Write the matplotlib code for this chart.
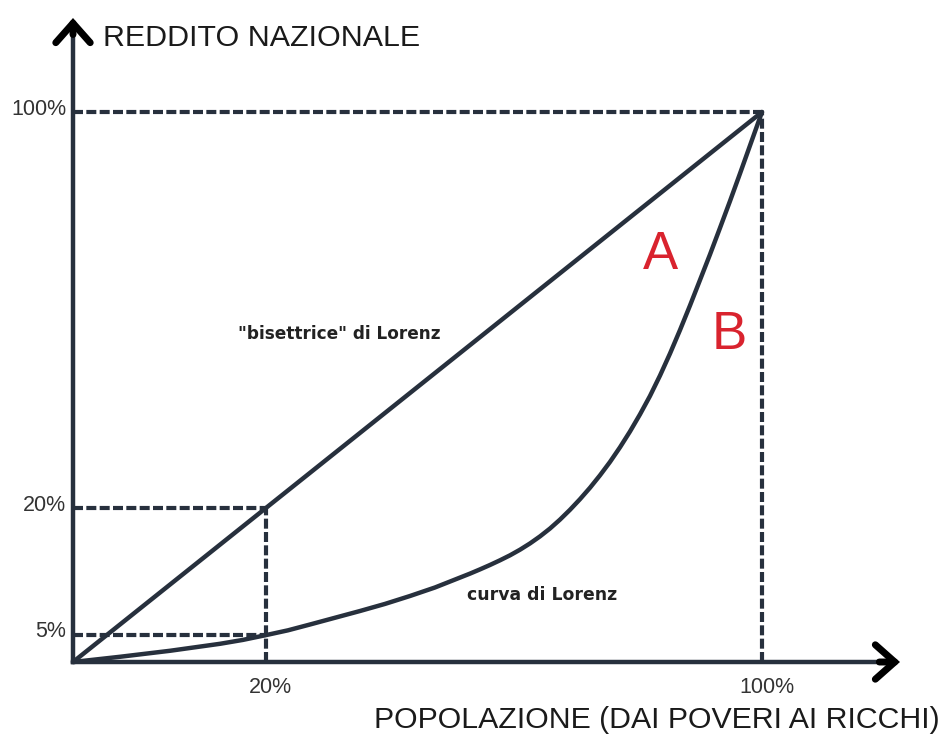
import numpy as np
import matplotlib.pyplot as plt

plt.rcParams['font.family'] = ['Liberation Sans', 'DejaVu Sans']

# --- data (schematic units: 0..100 along each axis, as drawn) ---
lorenz_x = [0, 6.82, 14.08, 21.34, 24.67, 28.01, 31.20, 34.40, 41.65, 45.28, 48.91,
            52.54, 56.17, 57.62, 59.07, 60.52, 61.97, 63.43, 64.88, 66.33, 67.78,
            69.23, 70.68, 72.13, 73.58, 75.04, 76.49, 77.94, 79.39, 80.84, 82.29,
            83.74, 85.20, 86.65, 88.10, 89.55, 91.00, 92.45, 93.90, 95.36, 96.81,
            98.26, 100]
lorenz_y = [0, 0.95, 2.04, 3.31, 4.02, 4.89, 5.76, 6.82, 9.27, 10.56, 12.00,
            13.55, 15.35, 16.07, 16.84, 17.64, 18.49, 19.40, 20.42, 21.56, 22.84,
            24.27, 25.89, 27.67, 29.60, 31.69, 33.95, 36.38, 39.04, 41.91, 45.02,
            48.36, 52.09, 56.09, 60.36, 64.82, 69.45, 74.09, 78.91, 83.82, 88.82,
            93.91, 100]
equal_x = [0, 100]
equal_y = [0, 100]

x_tick_pos = [28, 100]
x_tick_lab = ['20%', '100%']
y_tick_pos = [5, 28, 100]
y_tick_lab = ['5%', '20%', '100%']

ink = '#27303d'
red = '#d9232e'

fig = plt.figure(figsize=(9.44, 7.42), dpi=100)
ax = fig.add_axes([0, 0, 1, 1])
# pixel mapping: origin at (73, 662), 100 units = 689 px (x) / 550 px (y)
sx, sy = 6.89, 5.5
ax.set_xlim(-73 / sx, (944 - 73) / sx)
ax.set_ylim(-(742 - 662) / sy, 662 / sy)
ax.axis('off')

# dashed guide lines
dash = (0, (2.4, 0.8))
ax.plot([0, 100], [100, 100], color=ink, lw=3, ls=dash)
ax.plot([100, 100], [0, 100], color=ink, lw=3, ls=dash)
ax.plot([0, x_tick_pos[0]], [y_tick_pos[1], y_tick_pos[1]], color=ink, lw=3, ls=dash)
ax.plot([x_tick_pos[0], x_tick_pos[0]], [0, y_tick_pos[1]], color=ink, lw=3, ls=dash)
ax.plot([0, x_tick_pos[0]], [y_tick_pos[0], y_tick_pos[0]], color=ink, lw=3, ls=dash)

# curves
ax.plot(equal_x, equal_y, color=ink, lw=3.2, solid_capstyle='round')
ax.plot(lorenz_x, lorenz_y, color=ink, lw=3.2, solid_joinstyle='round',
        solid_capstyle='round')

# axes with chevron arrows
x_end = (900 - 73) / sx
y_end = (662 - 18) / sy
ax.plot([0, x_end - 1], [0, 0], color=ink, lw=3.2, solid_capstyle='projecting')
ax.plot([0, 0], [0, y_end - 1], color=ink, lw=3.2, solid_capstyle='projecting')
for tip, tail in [((x_end, 0), (x_end - 3, 0)), ((0, y_end), (0, y_end - 3))]:
    ax.annotate('', xy=tip, xytext=tail,
                arrowprops=dict(arrowstyle='->,head_length=0.7,head_width=0.62',
                                lw=5, color='black', mutation_scale=20,
                                shrinkA=0, shrinkB=0, joinstyle='miter'))

# tick labels
for p, lab in zip(x_tick_pos, x_tick_lab):
    ax.text(p + 0.7, -4.6, lab, ha='center', va='center', fontsize=15.5, color='#333333')
for p, lab in zip(y_tick_pos, y_tick_lab):
    ax.text(-1.0, p + 0.5, lab, ha='right', va='center', fontsize=15.5, color='#333333')

# axis titles
ax.text((103 - 73) / sx, (662 - 38) / sy, 'REDDITO NAZIONALE', ha='left', va='center',
        fontsize=21.9, color='#1a1a1a')
ax.text((940 - 73) / sx, -(720 - 662) / sy, 'POPOLAZIONE (DAI POVERI AI RICCHI)',
        ha='right', va='center', fontsize=21.8, color='#1a1a1a')

# annotations
ax.text((339 - 73) / sx, (662 - 334) / sy, '"bisettrice" di Lorenz', ha='center', va='center',
        fontsize=12.2, fontweight='bold', family='DejaVu Sans', color='#222222')
ax.text((542 - 73) / sx, (662 - 595) / sy, 'curva di Lorenz', ha='center', va='center',
        fontsize=12.4, fontweight='bold', family='DejaVu Sans', color='#222222')
ax.text((660 - 73) / sx, (662 - 255) / sy, 'A', ha='center', va='center', fontsize=38, color=red)
ax.text((729 - 73) / sx, (662 - 335) / sy, 'B', ha='center', va='center', fontsize=38, color=red)

fig.savefig('out.png', dpi=100, facecolor='white')
